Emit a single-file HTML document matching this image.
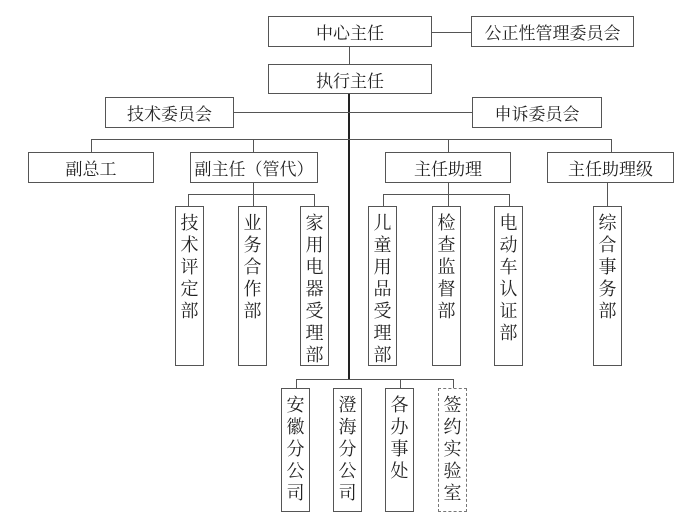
<!DOCTYPE html>
<html><head><meta charset="utf-8"><style>
body{margin:0;background:#fff;}
#c{position:relative;width:700px;height:528px;overflow:hidden;font-family:"Liberation Serif","Noto Serif CJK SC","Noto Sans CJK SC",serif;color:#222;}
.b{position:absolute;border:1px solid #555;box-sizing:border-box;background:#fff;text-align:center;font-size:17px;}
.h{display:flex;align-items:center;justify-content:center;}
.v{font-size:18px;line-height:22px;padding-top:5px;}
.l{position:absolute;background:#555;}
</style></head><body><div id="c">
<div class="l" style="left:432px;top:32px;width:39px;height:1px"></div>
<div class="l" style="left:349px;top:47px;width:1px;height:17px"></div>
<div class="l" style="left:348px;top:94px;width:2px;height:285px;background:#222"></div>
<div class="l" style="left:234px;top:112px;width:238px;height:1px"></div>
<div class="l" style="left:91px;top:139px;width:521px;height:1px"></div>
<div class="l" style="left:91px;top:139px;width:1px;height:13px"></div>
<div class="l" style="left:253px;top:139px;width:1px;height:13px"></div>
<div class="l" style="left:448px;top:139px;width:1px;height:13px"></div>
<div class="l" style="left:611px;top:139px;width:1px;height:13px"></div>

<div class="l" style="left:253px;top:183px;width:1px;height:23px"></div>
<div class="l" style="left:188px;top:194px;width:127px;height:1px"></div>
<div class="l" style="left:188px;top:194px;width:1px;height:12px"></div>
<div class="l" style="left:314px;top:194px;width:1px;height:12px"></div>
<div class="l" style="left:448px;top:183px;width:1px;height:23px"></div>
<div class="l" style="left:383px;top:194px;width:127px;height:1px"></div>
<div class="l" style="left:383px;top:194px;width:1px;height:12px"></div>
<div class="l" style="left:509px;top:194px;width:1px;height:12px"></div>
<div class="l" style="left:607px;top:183px;width:1px;height:23px"></div>

<div class="l" style="left:296px;top:379px;width:158px;height:1px"></div>
<div class="l" style="left:296px;top:379px;width:1px;height:9px"></div>
<div class="l" style="left:400px;top:379px;width:1px;height:9px"></div>
<div class="l" style="left:453px;top:379px;width:1px;height:9px"></div>

<div class="b h" style="left:268px;top:16px;width:164px;height:31px">中心主任</div>
<div class="b h" style="left:471px;top:16px;width:163px;height:31px">公正性管理委员会</div>
<div class="b h" style="left:268px;top:64px;width:164px;height:30px">执行主任</div>
<div class="b h" style="left:105px;top:97px;width:129px;height:31px">技术委员会</div>
<div class="b h" style="left:472px;top:97px;width:130px;height:31px">申诉委员会</div>
<div class="b h" style="left:28px;top:152px;width:126px;height:31px">副总工</div>
<div class="b h" style="left:190px;top:152px;width:128px;height:31px">副主任（管代）</div>
<div class="b h" style="left:385px;top:152px;width:126px;height:31px">主任助理</div>
<div class="b h" style="left:547px;top:152px;width:127px;height:31px">主任助理级</div>

<div class="b v" style="left:175px;top:206px;width:29px;height:160px">技<br>术<br>评<br>定<br>部</div>
<div class="b v" style="left:238px;top:206px;width:29px;height:160px">业<br>务<br>合<br>作<br>部</div>
<div class="b v" style="left:300px;top:206px;width:29px;height:160px">家<br>用<br>电<br>器<br>受<br>理<br>部</div>
<div class="b v" style="left:368px;top:206px;width:29px;height:160px">儿<br>童<br>用<br>品<br>受<br>理<br>部</div>
<div class="b v" style="left:432px;top:206px;width:29px;height:160px">检<br>查<br>监<br>督<br>部</div>
<div class="b v" style="left:494px;top:206px;width:29px;height:160px">电<br>动<br>车<br>认<br>证<br>部</div>
<div class="b v" style="left:593px;top:206px;width:29px;height:160px">综<br>合<br>事<br>务<br>部</div>

<div class="b v" style="left:281px;top:388px;width:29px;height:124px">安<br>徽<br>分<br>公<br>司</div>
<div class="b v" style="left:333px;top:388px;width:29px;height:124px">澄<br>海<br>分<br>公<br>司</div>
<div class="b v" style="left:385px;top:388px;width:29px;height:124px">各<br>办<br>事<br>处</div>
<div class="b v" style="left:438px;top:388px;width:29px;height:124px;border:1px dashed #777">签<br>约<br>实<br>验<br>室</div>
</div></body></html>
